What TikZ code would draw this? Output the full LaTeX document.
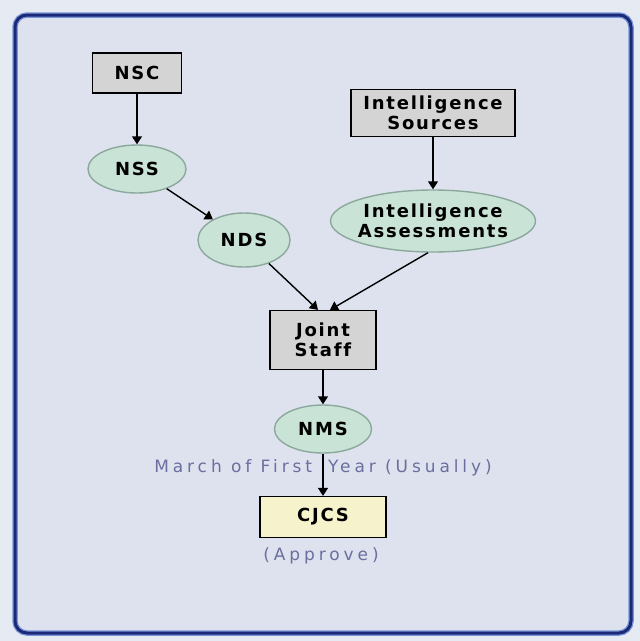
\documentclass[tikz,border=0pt]{standalone}
\usepackage{fontspec}
\setmainfont{DejaVu Sans}
\newfontfamily\chartfont[LetterSpace=10,Ligatures=NoCommon]{DejaVu Sans}
\newfontfamily\notefont[LetterSpace=23]{DejaVu Sans}
\usepackage{xcolor}
\usepackage{tikz}
\usetikzlibrary{arrows.meta,shapes}

\definecolor{pagebg}{RGB}{230,234,242}
\definecolor{panelbg}{RGB}{221,226,238}
\definecolor{framedark}{RGB}{28,40,120}
\definecolor{framelight}{RGB}{120,150,215}
\definecolor{boxgrey}{RGB}{212,212,212}
\definecolor{ovalgreen}{RGB}{201,227,214}
\definecolor{ovaledge}{RGB}{140,168,156}
\definecolor{cjcsyellow}{RGB}{246,242,204}
\definecolor{notecol}{RGB}{108,110,158}

\begin{document}
\begin{tikzpicture}[x=1pt, y=-1pt,
    every node/.style={font=\chartfont\fontsize{18}{20}\selectfont\bfseries,
                       align=center, inner sep=0pt},
    sqbox/.style={rectangle, draw=black, fill=boxgrey, line width=1.2pt},
    oval/.style={ellipse, draw=ovaledge, fill=ovalgreen, line width=1.4pt},
    note/.style={font=\notefont\fontsize{17}{19}\selectfont, text=notecol},
    link/.style={-{Triangle[width=10pt,length=8pt]}, line width=1.4pt}]
  % panel
  \fill[pagebg] (0,0) rectangle (640,641);
  \draw[framelight, line width=5.5pt, rounded corners=12pt, fill=panelbg]
      (15,15) rectangle (631,633);
  \draw[framedark, line width=3pt, rounded corners=12pt]
      (15,15) rectangle (631,633);
  % nodes
  \node[sqbox, minimum width=89, minimum height=40] (nsc) at (137,73) {NSC};
  \node[oval, minimum width=98, minimum height=48] (nss) at (137,169) {NSS};
  \node[oval, minimum width=92, minimum height=54] (nds) at (244,240) {NDS};
  \node[sqbox, minimum width=164, minimum height=47] (isrc) at (433,113)
      {Intelligence\\Sources};
  \node[oval, inner xsep=-14pt, minimum width=205, minimum height=62] (iasm)
      at (433,221) {Intelligence\\Assessments};
  \node[sqbox, minimum width=106, minimum height=59] (js) at (323,340)
      {Joint\\Staff};
  \node[oval, minimum width=97, minimum height=48] (nms) at (323,429) {NMS};
  \node[sqbox, fill=cjcsyellow, minimum width=126, minimum height=41] (cjcs)
      at (323,517) {CJCS};
  \node[note] (appr) at (321,556) {(Approve)};
  % arrows
  \draw[link] (nsc) -- (nss);
  \draw[link] (nss) -- (nds);
  \draw[link] (nds) -- ([xshift=-5pt]js.north);
  \draw[link] (isrc) -- (iasm);
  \draw[link] ([xshift=-5pt]iasm.south) -- ([xshift=7pt]js.north);
  \draw[link] (js) -- (nms);
  \draw[link] (nms) -- (cjcs)
      node[note, pos=0.33] {March of First\hspace{16pt}Year (Usually)};
\end{tikzpicture}
\end{document}
